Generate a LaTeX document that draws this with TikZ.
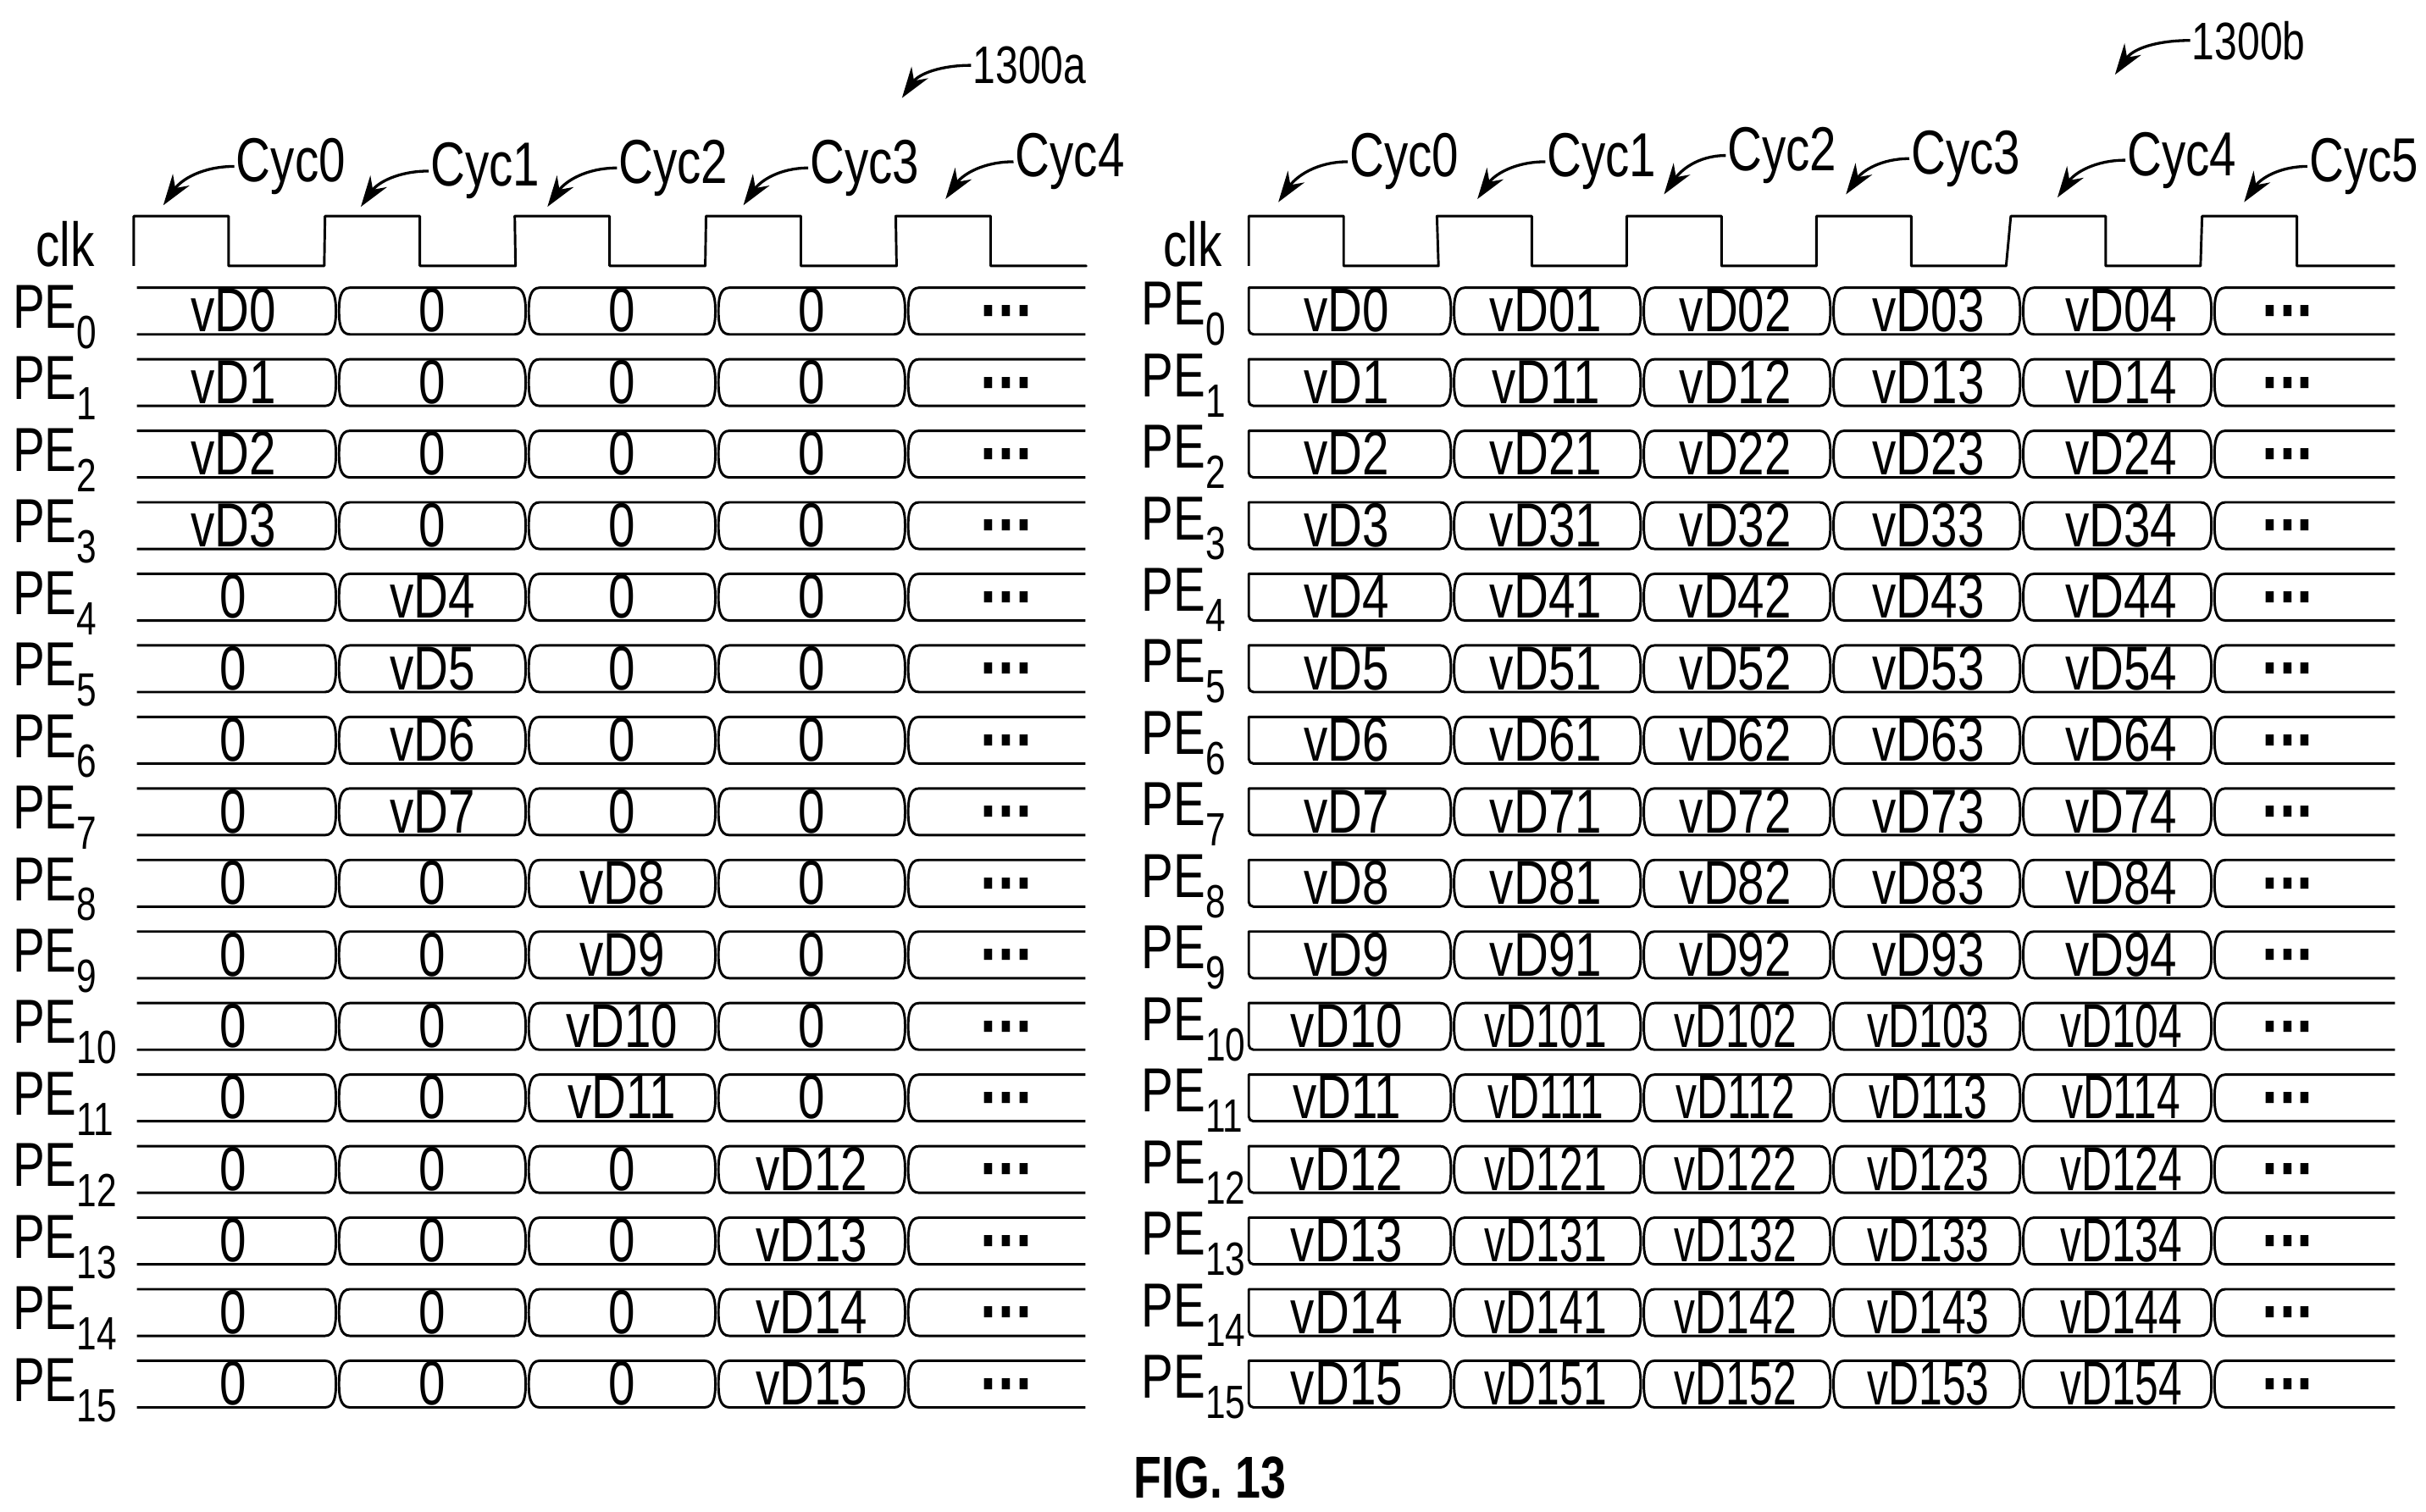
\documentclass[tikz,border=0pt]{standalone}
\usepackage{fontspec}
\setmainfont{Liberation Sans}[FakeStretch=0.77]
\usetikzlibrary{arrows.meta}
\begin{document}
\begin{tikzpicture}[x=1pt,y=-1pt,
  w/.style={line width=1.6pt, line join=round},
  lbl/.style={font=\fontsize{40}{40}\selectfont, inner sep=0pt},
  pe/.style={font=\fontsize{40}{40}\selectfont, inner sep=0pt, anchor=base west},
  cyc/.style={font=\fontsize{40}{40}\selectfont, inner sep=1pt},
  ref/.style={font=\fontsize{34}{34}\selectfont, inner sep=1pt},
  arr/.style={line width=1.8pt, -{Stealth[length=20pt,width=13pt]}}]
\newcommand\dotsq{{\fontsize{48}{48}\selectfont\bfseries\textperiodcentered\kern-1pt\textperiodcentered\kern-1pt\textperiodcentered}}
\useasboundingbox (0,0) rectangle (1560,972);
% clocks
\draw[w] (86,171) -- (86,139)
  \foreach \r in {86,209,331,454,576}{ -- (\r,139) -- ({\r+61},139) -- ({\r+61},171) -- ({\r+122.5},171)}
  -- (698,171);
\draw[w] (803,171) -- (803,139)
  \foreach \r in {803,924,1046,1168,1293,1416}{ -- (\r,139) -- ({\r+61},139) -- ({\r+61},171) -- ({\r+122},171)}
  -- (1540,171);
\node[lbl] (clkA) at (42,157) {clk};
\node[lbl] (clkB) at (767,157) {clk};
% rows
\foreach \i in {0,...,15}{
  \pgfmathsetmacro\t{185+46*\i}
  \pgfmathsetmacro\b{\t+30}
  \pgfmathsetmacro\m{\t+15}
  \pgfmathtruncatemacro\g{int(\i/4)}
  % left bus
  \draw[w] (88,\t) -- (209,\t) to[out=0,in=90] (216,\m) to[out=-90,in=0] (209,\b) -- (88,\b);
  \foreach \p/\q in {217/339,339/461,461/583}{
    \draw[w] ({\p+8},\t) -- ({\q-8},\t) to[out=0,in=90] ({\q-1},\m) to[out=-90,in=0] ({\q-8},\b) -- ({\p+8},\b) to[out=180,in=-90] ({\p+1},\m) to[out=90,in=180] cycle;}
  \draw[w] (698,\t) -- (591,\t) to[out=180,in=90] (584,\m) to[out=-90,in=180] (591,\b) -- (698,\b);
  \node[pe] (pa\i) at (8,{\b-4}) {PE\raisebox{-13pt}{\fontsize{30}{30}\selectfont\i}};
  \foreach \j/\x in {0/150,1/278,2/400,3/522}{
    \node[lbl,anchor=base] (a\i c\j) at (\x,{\b-1.5}) {\ifnum\j=\g vD\i\else 0\fi};}
  \node[lbl,anchor=base] (a\i c4) at (648,{\b+1}) {\dotsq};
  % right bus
  \draw[w] (803,\t) [rounded corners=3pt] -- (803,\b) [sharp corners] -- (926,\b) to[out=0,in=-90] (933,\m) to[out=90,in=0] (926,\t) -- cycle;
  \foreach \p/\q in {934/1056,1056/1178,1178/1300,1300/1423}{
    \draw[w] ({\p+8},\t) -- ({\q-8},\t) to[out=0,in=90] ({\q-1},\m) to[out=-90,in=0] ({\q-8},\b) -- ({\p+8},\b) to[out=180,in=-90] ({\p+1},\m) to[out=90,in=180] cycle;}
  \draw[w] (1540,\t) -- (1431,\t) to[out=180,in=90] (1424,\m) to[out=-90,in=180] (1431,\b) -- (1540,\b);
  \node[pe] (pb\i) at (734,{\b-6}) {PE\raisebox{-13pt}{\fontsize{30}{30}\selectfont\i}};
  \node[lbl,anchor=base] (b\i c0) at (866,{\b-1.5}) {vD\i};
  \foreach \j/\x in {1/994,2/1116,3/1240,4/1364}{
    \node[lbl,anchor=base] (b\i c\j) at (\x,{\b-1.5}) {\ifnum\i>9 \scalebox{0.88}[1]{vD\i\j}\else vD\i\j\fi};}
  \node[lbl,anchor=base] (b\i c5) at (1472,{\b+1}) {\dotsq};
}
% cycle labels
\foreach \n/\x/\y/\tx/\ty in {0/187/107/105/132,1/312/110/232/133,2/433/108/352/133,3/556/108/478/132,4/688/104/608/128}{
  \node[cyc] (ca\n) at (\x,\y) {Cyc\n};
  \coordinate (ta\n) at (\tx,\ty);
  \draw[arr] (ca\n.west) to[out=180,in=55] (ta\n);}
\foreach \n/\x/\y/\tx/\ty in {0/903/104/822/130,1/1030/104/950/128,2/1146/100/1070/125,3/1264/102/1187/125,4/1403/103/1323/127,5/1520/107/1443/130}{
  \node[cyc] (cb\n) at (\x,\y) {Cyc\n};
  \coordinate (tb\n) at (\tx,\ty);
  \draw[arr] (cb\n.west) to[out=180,in=55] (tb\n);}
\node[ref] (ra) at (662,42) {1300a};
\coordinate (rta) at (580,63);
\draw[arr] (ra.west) to[out=180,in=55] (rta);
\node[ref] (rb) at (1446,26) {1300b};
\coordinate (rtb) at (1360,48);
\draw[arr] (rb.west) to[out=180,in=55] (rtb);
\node[font=\fontsize{38}{38}\selectfont\bfseries] (fig) at (778,950) {FIG. 13};
\end{tikzpicture}
\end{document}
